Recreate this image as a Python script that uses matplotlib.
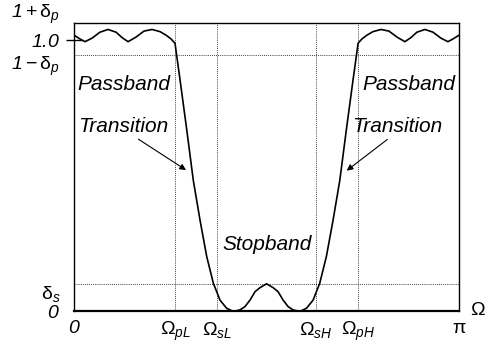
import numpy as np
import matplotlib
matplotlib.use("Agg")
import matplotlib.pyplot as plt

# ──────────────────────────────────────────────
# Datos
# ──────────────────────────────────────────────
# Frecuencias de borde
w_pL = 0.824
w_sL = 1.167
w_sH = 1.975
w_pH = 2.318

# Niveles de tolerancia
one_minus_dp = 0.945
one_plus_dp = 1.096   # posición de la etiqueta 1+δp
delta_s = 0.102

# Respuesta en magnitud |H(Ω)|
omega = [0.000, 0.049, 0.090, 0.147, 0.212, 0.277, 0.343, 0.392, 0.441, 0.506,
         0.571, 0.637, 0.702, 0.751, 0.792, 0.824,
         0.865, 0.920, 0.973, 1.028, 1.083, 1.137, 1.191, 1.245, 1.300,
         1.355, 1.395, 1.436, 1.477, 1.518, 1.571, 1.624, 1.665, 1.706, 1.747, 1.787,
         1.842, 1.897, 1.951, 2.005, 2.059, 2.114, 2.169, 2.222, 2.277,
         2.318, 2.349, 2.390, 2.439, 2.505, 2.570, 2.635, 2.700, 2.749, 2.798,
         2.864, 2.929, 2.994, 3.051, 3.092, 3.142]
mag = [1.018, 1.004, 0.994, 1.007, 1.029, 1.039, 1.029, 1.009, 0.994, 1.011,
       1.033, 1.039, 1.031, 1.018, 1.004, 0.988,
       0.854, 0.669, 0.484, 0.337, 0.202, 0.104, 0.042, 0.012, 0.000,
       0.006, 0.018, 0.042, 0.073, 0.088, 0.102, 0.088, 0.073, 0.042, 0.018, 0.006,
       0.000, 0.012, 0.042, 0.104, 0.202, 0.337, 0.484, 0.669, 0.854,
       0.988, 1.004, 1.018, 1.031, 1.039, 1.033, 1.011, 0.994, 1.009, 1.029,
       1.039, 1.029, 1.007, 0.994, 1.004, 1.018]

xtick_vals = [0, w_pL, w_sL, w_sH, w_pH, np.pi]
xtick_labels = [r'$\mathsf{0}$', r'$\Omega_{pL}$', r'$\Omega_{sL}$',
                r'$\Omega_{sH}$', r'$\Omega_{pH}$', r'$\mathrm{\pi}$']
ytick_vals = [0, delta_s, one_minus_dp]
ytick_labels = [r'$\mathsf{0}$', r'$\mathrm{\delta}_s$',
                r'$\mathsf{1}-\mathrm{\delta}_p$']

# ──────────────────────────────────────────────
# Estilo
# ──────────────────────────────────────────────
plt.rcParams['font.family'] = ['Liberation Sans', 'DejaVu Sans']
plt.rcParams['mathtext.fontset'] = 'custom'
plt.rcParams['mathtext.rm'] = 'Liberation Sans'
plt.rcParams['mathtext.it'] = 'Liberation Sans:italic'
plt.rcParams['mathtext.sf'] = 'Liberation Sans:italic'

fig = plt.figure(figsize=(4.86, 3.44), dpi=100)
ax = fig.add_axes([0.1523, 0.0945, 0.7922, 0.8372])

ax.plot(omega, mag, color='black', lw=1.2)

# Líneas de referencia punteadas
dot = dict(color='black', lw=0.6, ls=(0, (1, 1.5)))
for w in [w_pL, w_sL, w_sH, w_pH]:
    ax.axvline(w, **dot)
for lvl in [one_minus_dp, delta_s]:
    ax.axhline(lvl, **dot)

ax.set_xlim(0, np.pi)
ax.set_ylim(0, 1.061)

ax.set_xticks(xtick_vals)
ax.set_xticklabels(xtick_labels, fontsize=14)
ax.set_yticks(ytick_vals)
ax.set_yticklabels(ytick_labels, fontsize=14)
ax.tick_params(axis='x', length=0, pad=6)
ax.tick_params(axis='y', length=0, pad=10)
# δs y 1−δp quedan por debajo de su línea
for lab in ax.get_yticklabels()[1:]:
    lab.set_va('top')

# 1.0 con marca que cruza el eje
ax.set_yticks([1.0], minor=True)
ax.set_yticklabels([r'$\mathsf{1.0}$'], minor=True, fontsize=14)
ax.tick_params(axis='y', which='minor', direction='inout', length=12,
               width=1.0, pad=4)

for side in ['top', 'right', 'left']:
    ax.spines[side].set_linewidth(1.0)
ax.spines['bottom'].set_linewidth(1.6)

ax.annotate(r'$\mathsf{1}+\mathrm{\delta}_p$', xy=(-0.036, one_plus_dp),
            xycoords=('axes fraction', 'data'), ha='right', va='center',
            fontsize=14, annotation_clip=False)
ax.text(3.235, -0.013, r'$\Omega$', fontsize=14, ha='left', va='baseline',
        clip_on=False)

# Textos de regiones
tk = dict(fontsize=15, style='italic', va='baseline', ha='center')
ax.text(0.408, 0.816, 'Passband', **tk)
ax.text(2.734, 0.816, 'Passband', **tk)
ax.text(0.400, 0.662, 'Transition', **tk)
ax.text(2.640, 0.662, 'Transition', **tk)
ax.text(1.579, 0.2265, 'Stopband', **tk)

arrow = dict(arrowstyle='-|>', color='black', lw=0.8, mutation_scale=9,
             shrinkA=0, shrinkB=0)
ax.annotate('', xy=(0.914, 0.521), xytext=(0.525, 0.635), arrowprops=arrow)
ax.annotate('', xy=(2.225, 0.519), xytext=(2.557, 0.634), arrowprops=arrow)

fig.savefig('out.png', dpi=100, facecolor='white')
